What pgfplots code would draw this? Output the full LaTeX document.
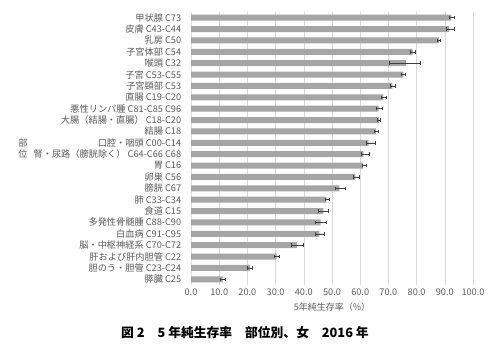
\documentclass[border=0pt]{standalone}
\usepackage{fontspec}
\setmainfont{Noto Sans CJK JP}
\usepackage{pgfplots}
\usepackage{pgfplotstable}
\pgfplotsset{compat=1.18}
\definecolor{barc}{HTML}{A5A5A5}
\definecolor{txt}{HTML}{595959}
\definecolor{grd}{HTML}{D9D9D9}
\definecolor{errc}{HTML}{404040}
\pgfplotstableread{
idx val ep em
0 92.3 0.9 0.7
1 91.4 2.0 0.9
2 87.9 0.4 0.4
3 78.6 0.9 0.7
4 76.2 5.2 5.9
5 75.3 0.8 0.6
6 71.4 1.2 0.8
7 68.2 0.9 0.7
8 66.5 1.2 0.7
9 66.6 0.7 0.5
10 65.6 0.9 0.5
11 63.0 2.2 0.7
12 61.1 2.1 0.6
13 61.0 1.1 0.4
14 58.2 1.5 0.6
15 52.6 2.0 1.5
16 48.0 1.0 0.5
17 46.9 1.8 1.8
18 46.0 1.9 1.8
19 45.5 1.7 1.5
20 37.5 2.3 2.1
21 30.4 0.9 0.9
22 20.9 1.0 1.1
23 11.2 1.0 0.9
}\data
\begin{document}
\begin{tikzpicture}
\path[use as bounding box] (0pt,0pt) rectangle (490pt,354pt);
\begin{axis}[
  at={(191pt,69pt)}, anchor=south west,
  width=282pt, height=273pt, scale only axis,
  xbar, bar width=6pt,
  xmin=0, xmax=100, ymin=-0.5, ymax=23.5, y dir=reverse,
  xtick={0,10,...,100},
  ytick={0,...,23},
  yticklabels={甲状腺 C73, 皮膚 C43-C44, 乳房 C50, 子宮体部 C54, 喉頭 C32, 子宮 C53-C55, 子宮頸部 C53, 直腸 C19-C20, 悪性リンパ腫 C81-C85 C96, 大腸（結腸・直腸） C18-C20, 結腸 C18, 口腔・咽頭 C00-C14, 腎・尿路（膀胱除く） C64-C66 C68, 胃 C16, 卵巣 C56, 膀胱 C67, 肺 C33-C34, 食道 C15, 多発性骨髄腫 C88-C90, 白血病 C91-C95, 脳・中枢神経系 C70-C72, 肝および肝内胆管 C22, 胆のう・胆管 C23-C24, 膵臓 C25},
  xmajorgrids, major grid style={grd, line width=0.6pt},
  axis line style={draw=none},
  tick style={draw=none},
  /pgf/number format/.cd, fixed, fixed zerofill, precision=1, assume math mode=true,
  /pgfplots/.cd,
  tick label style={text=txt, font=\fontsize{9.2}{10}\selectfont},
  yticklabel style={xshift=-2pt},
  xlabel={5年純生存率（\%）},
  xlabel style={text=txt, font=\fontsize{9}{10}\selectfont, at={(axis description cs:0.5,0)}, anchor=center, yshift=-22pt},
]
\addplot[fill=barc, draw=none,
  error bars/.cd, x dir=both, x explicit,
  error bar style={errc, line width=0.6pt},
  error mark options={errc, line width=0.6pt, mark size=1.7pt, rotate=90}]
  table[x=val, y=idx, x error plus=ep, x error minus=em] {\data};
\end{axis}
\node[text=txt, align=center, font=\fontsize{9.2}{11}\selectfont] at (23pt,205pt) {部\\位};
\node[font=\fontsize{12.8}{14}\selectfont\bfseries] at (245pt,21pt) {図 2　5 年純生存率　部位別、女　2016 年};
\end{tikzpicture}
\end{document}
